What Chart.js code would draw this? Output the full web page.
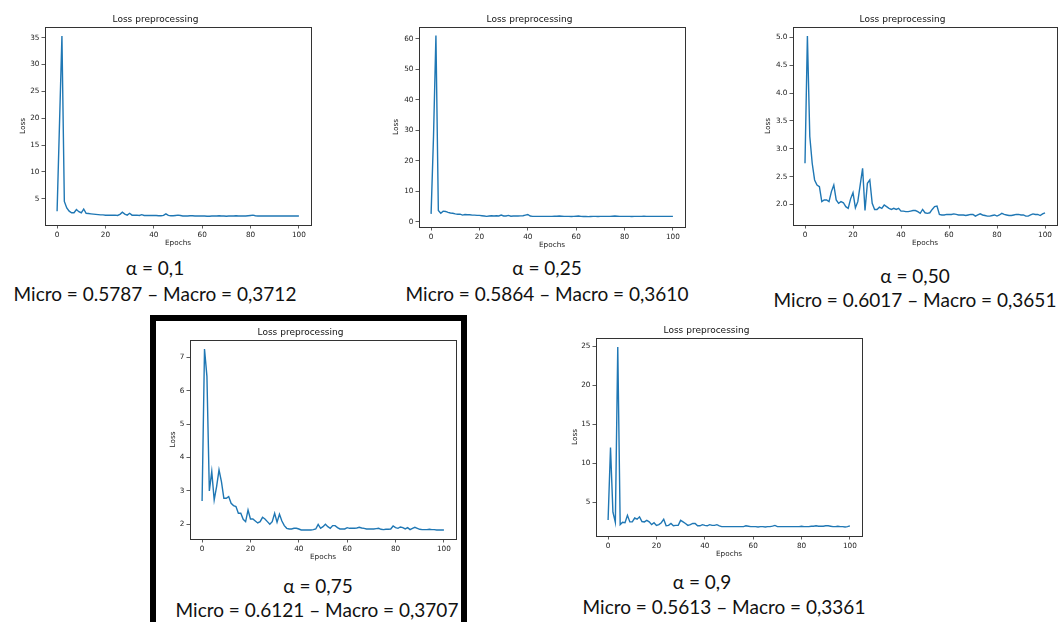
<!DOCTYPE html>
<html><head><meta charset="utf-8">
<script src="https://cdn.jsdelivr.net/npm/chart.js@4.4.0/dist/chart.umd.min.js"></script>
<style>
html,body{margin:0;padding:0;background:#fff;width:1061px;height:622px;overflow:hidden;position:relative;}
canvas{position:absolute;}
.cap{position:absolute;transform:translate(-50%,-50%);white-space:nowrap;color:#111;font-family:Lato,"Noto Sans",sans-serif;line-height:1;}
#frame{position:absolute;left:150px;top:315px;width:305px;height:330px;border:6px solid #000;border-bottom:none;}
</style></head><body>
<div id="frame"></div>
<script>
// ---------------- data ----------------
const EPOCHS = Array.from({length: 101}, (_, i) => i);
const X_TICKS = [0, 20, 40, 60, 80, 100];

const LOSS_A010 = [2.7, 19.0, 35.3, 4.5, 3.3, 2.7, 2.4, 2.4, 3.0, 2.6,
 2.4, 3.1, 2.3, 2.25, 2.2, 2.15, 2.1, 2.05, 2.0, 2.0,
 1.95, 1.95, 1.95, 1.95, 1.95, 1.9, 2.1, 2.5, 2.15, 1.95,
 2.3, 1.95, 1.95, 1.95, 1.9, 2.05, 1.9, 1.9, 1.9, 1.9,
 1.9, 1.9, 1.85, 1.85, 1.9, 2.2, 1.9, 1.85, 1.85, 1.9,
 1.95, 1.9, 1.8, 1.8, 1.8, 1.85, 1.85, 1.8, 1.8, 1.8,
 1.8, 1.8, 1.75, 1.75, 1.8, 1.8, 1.8, 1.85, 1.8, 1.8,
 1.75, 1.8, 1.8, 1.8, 1.85, 1.8, 1.8, 1.8, 1.8, 1.85,
 1.9, 1.95, 1.85, 1.8, 1.8, 1.8, 1.8, 1.8, 1.8, 1.8,
 1.8, 1.8, 1.8, 1.8, 1.8, 1.8, 1.8, 1.8, 1.8, 1.8,
 1.8];
const LOSS_A025 = [2.6, 28.0, 61.1, 3.7, 2.8, 3.5, 3.4, 3.1, 2.9, 2.8,
 2.6, 2.5, 2.5, 2.2, 2.4, 2.3, 2.3, 2.2, 2.2, 2.1,
 2.1, 2.0, 1.9, 1.8, 1.9, 2.0, 1.9, 2.0, 1.9, 2.2,
 1.9, 1.9, 2.1, 1.85, 1.9, 1.9, 1.9, 1.95, 2.0, 2.2,
 2.4, 1.9, 1.8, 1.8, 1.8, 1.8, 1.8, 1.8, 1.8, 1.8,
 1.8, 1.85, 1.85, 1.9, 1.85, 1.8, 1.8, 1.8, 1.75, 1.8,
 1.85, 1.9, 1.8, 1.75, 1.75, 1.7, 1.75, 1.8, 1.8, 1.75,
 1.8, 1.8, 1.8, 1.8, 1.8, 1.85, 1.9, 1.85, 1.8, 1.8,
 1.8, 1.8, 1.8, 1.75, 1.8, 1.8, 1.8, 1.8, 1.85, 1.8,
 1.8, 1.8, 1.8, 1.8, 1.8, 1.8, 1.8, 1.8, 1.8, 1.8,
 1.8];
const LOSS_A050 = [2.74, 5.03, 3.22, 2.74, 2.44, 2.35, 2.32, 2.05, 2.08, 2.08,
 2.05, 2.23, 2.35, 2.08, 2.02, 2.05, 2.03, 1.96, 1.93, 2.1,
 2.21, 1.94, 2.05, 2.35, 2.65, 1.89, 2.38, 2.44, 2.02, 1.91,
 1.91, 1.95, 1.93, 1.99, 1.96, 1.93, 1.91, 1.93, 1.91, 1.93,
 1.88, 1.88, 1.87, 1.87, 1.88, 1.89, 1.89, 1.87, 1.84, 1.91,
 1.85, 1.84, 1.85, 1.91, 1.96, 1.97, 1.82, 1.81, 1.81, 1.82,
 1.82, 1.82, 1.83, 1.82, 1.81, 1.81, 1.81, 1.80, 1.81, 1.82,
 1.82, 1.79, 1.81, 1.83, 1.81, 1.80, 1.79, 1.79, 1.80, 1.81,
 1.79, 1.81, 1.84, 1.82, 1.81, 1.80, 1.80, 1.81, 1.82, 1.82,
 1.81, 1.81, 1.79, 1.79, 1.81, 1.83, 1.82, 1.82, 1.80, 1.83,
 1.85];
const LOSS_A075 = [2.7, 7.25, 6.43, 3.0, 3.58, 2.73, 3.13, 3.63, 3.28, 2.78,
 2.78, 2.83, 2.63, 2.56, 2.53, 2.33, 2.33, 2.15, 2.08, 2.43,
 2.16, 2.16, 2.1, 2.04, 2.08, 2.21, 2.16, 2.08, 2.0, 2.08,
 2.33, 2.06, 2.3, 2.1, 1.96, 1.88, 1.86, 1.86, 1.88, 1.88,
 1.86, 1.83, 1.83, 1.83, 1.83, 1.83, 1.84, 1.86, 2.0, 1.88,
 1.93, 2.0, 1.93, 1.88, 1.96, 1.96, 1.9, 1.86, 1.86, 1.86,
 1.9, 1.88, 1.88, 1.88, 1.89, 1.91, 1.89, 1.88, 1.86, 1.86,
 1.86, 1.86, 1.87, 1.88, 1.85, 1.84, 1.85, 1.85, 1.86, 1.95,
 1.9, 1.88, 1.92, 1.9, 1.86, 1.9, 1.84, 1.88, 1.91, 1.88,
 1.85, 1.84, 1.84, 1.84, 1.85, 1.84, 1.84, 1.83, 1.83, 1.83,
 1.83];
const LOSS_A090 = [2.7, 12.0, 3.7, 2.4, 24.9, 2.1, 2.4, 2.35, 3.3, 2.45,
 2.45, 2.95, 2.8, 3.1, 2.5, 2.45, 2.65, 2.45, 2.1, 2.35,
 2.0, 2.1, 2.35, 2.8, 1.95, 2.0, 2.25, 1.95, 2.0, 2.0,
 2.65, 2.45, 2.25, 2.0, 2.1, 2.25, 2.25, 1.95, 1.95, 2.1,
 2.0, 1.95, 2.1, 2.0, 2.0, 2.1, 1.95, 1.85, 1.85, 1.85,
 1.85, 1.85, 1.85, 1.85, 1.85, 1.85, 1.85, 1.95, 1.9, 1.85,
 1.85, 1.85, 1.8, 1.85, 1.85, 1.8, 1.85, 1.85, 1.9, 2.0,
 1.85, 1.85, 1.85, 1.85, 1.85, 1.85, 1.85, 1.85, 1.85, 1.85,
 1.9, 1.85, 1.85, 1.85, 1.9, 1.9, 1.95, 1.9, 1.9, 1.9,
 1.95, 1.95, 1.9, 1.85, 1.85, 1.9, 1.85, 1.85, 1.8, 1.85,
 1.95];

const Y_TICKS_A010 = [5, 10, 15, 20, 25, 30, 35];
const Y_TICKS_A025 = [0, 10, 20, 30, 40, 50, 60];
const Y_TICKS_A050 = [2.0, 2.5, 3.0, 3.5, 4.0, 4.5, 5.0];
const Y_TICKS_A075 = [2, 3, 4, 5, 6, 7];
const Y_TICKS_A090 = [5, 10, 15, 20, 25];

const ALPHA_LABELS = ['α = 0,1', 'α = 0,25', 'α = 0,50', 'α = 0,75', 'α = 0,9'];
const SCORE_LABELS = ['Micro = 0.5787 – Macro = 0,3712', 'Micro = 0.5864 – Macro = 0,3610',
  'Micro = 0.6017 – Macro = 0,3651', 'Micro = 0.6121 – Macro = 0,3707', 'Micro = 0.5613 – Macro = 0,3361'];

const CHART_TITLE = 'Loss preprocessing';
const X_TITLE = 'Epochs';
const Y_TITLE = 'Loss';

// ---------------- layout ----------------
const PANELS = [
  {data: LOSS_A010, yt: Y_TICKS_A010, dec: 0, box: [45, 311, 27, 225], y: [0.12, 37.0], yTitleGap: 22, cap: [155, 267, 155, 293]},
  {data: LOSS_A025, yt: Y_TICKS_A025, dec: 0, box: [419, 685, 27, 226.5], y: [-1.7, 63.9], yTitleGap: 23, cap: [547, 267, 547, 293]},
  {data: LOSS_A050, yt: Y_TICKS_A050, dec: 1, box: [793, 1057, 27, 225], y: [1.63, 5.19], yTitleGap: 25, cap: [915, 275, 915, 299]},
  {data: LOSS_A075, yt: Y_TICKS_A075, dec: 0, box: [190, 456, 340, 539], y: [1.56, 7.52], yTitleGap: 17, cap: [318, 585, 317, 609]},
  {data: LOSS_A090, yt: Y_TICKS_A090, dec: 0, box: [596, 862, 338, 536], y: [0.64, 26.06], yTitleGap: 21, cap: [702, 581, 724, 606]},
];

Chart.defaults.font.family = '"DejaVu Sans", sans-serif';
Chart.defaults.color = '#222';

const frameBox = {
  id: 'frameBox',
  afterDraw(chart) {
    const a = chart.chartArea, ctx = chart.ctx;
    ctx.save();
    ctx.strokeStyle = '#333';
    ctx.lineWidth = 1;
    ctx.strokeRect(Math.round(a.left) + 0.5, Math.round(a.top) + 0.5, Math.round(a.right - a.left), Math.round(a.bottom - a.top));
    ctx.restore();
  }
};

const AX_W = 45, AX_H = 28, TITLE_H = 25, PAD_R = 4;
const TICK_FONT = 7.3, LABEL_FONT = 7.3, TITLE_FONT = 9;

PANELS.forEach((p, idx) => {
  const [L, R, T, B] = p.box;
  const cv = document.createElement('canvas');
  const w = Math.round(R - L + AX_W + PAD_R), h = Math.round(B - T + TITLE_H + AX_H);
  cv.width = w; cv.height = h;
  cv.style.left = (L - AX_W) + 'px';
  cv.style.top = (T - TITLE_H) + 'px';
  cv.style.width = w + 'px'; cv.style.height = h + 'px';
  document.body.appendChild(cv);

  const lh = LABEL_FONT * 1.2;
  new Chart(cv.getContext('2d'), {
    type: 'line',
    data: {
      datasets: [{
        data: EPOCHS.map((e, i) => ({x: e, y: p.data[i]})),
        borderColor: '#1f77b4', borderWidth: 1.4, pointRadius: 0, tension: 0, fill: false
      }]
    },
    options: {
      responsive: false, animation: false, devicePixelRatio: 1,
      layout: {padding: {left: 0, right: PAD_R, top: 0, bottom: 0}},
      plugins: {
        legend: {display: false}, tooltip: {enabled: false},
        title: {display: true, text: CHART_TITLE, color: '#111',
          font: {size: TITLE_FONT, weight: 'normal'}, padding: {top: TITLE_H - TITLE_FONT * 1.2 - 1.8, bottom: 1.8}}
      },
      scales: {
        x: {
          type: 'linear', min: -5, max: 105,
          afterBuildTicks: s => { s.ticks = X_TICKS.map(v => ({value: v})); },
          afterFit: s => { s.height = AX_H; },
          grid: {display: true, drawOnChartArea: false, drawTicks: true, tickLength: 3.5, color: '#333', tickWidth: 0.8},
          border: {display: false},
          ticks: {font: {size: TICK_FONT}, color: '#222', padding: 2, maxRotation: 0, autoSkip: false},
          title: {display: true, text: X_TITLE, color: '#222', font: {size: LABEL_FONT}, padding: {top: 0, bottom: AX_H - 18.5 - lh / 2}}
        },
        y: {
          type: 'linear', min: p.y[0], max: p.y[1],
          afterBuildTicks: s => { s.ticks = p.yt.map(v => ({value: v})); },
          afterFit: s => { s.width = AX_W; },
          grid: {display: true, drawOnChartArea: false, drawTicks: true, tickLength: 3.5, color: '#333', tickWidth: 0.8},
          border: {display: false},
          ticks: {font: {size: TICK_FONT}, color: '#222', padding: 2, autoSkip: false,
            callback: v => p.dec ? Number(v).toFixed(p.dec) : String(v)},
          title: {display: true, text: Y_TITLE, color: '#222', font: {size: LABEL_FONT}, padding: {top: AX_W - p.yTitleGap - lh / 2, bottom: 0}}
        }
      }
    },
    plugins: [frameBox]
  });

  // captions
  const [ax, ay, sx, sy] = p.cap;
  [[ALPHA_LABELS[idx], ax, ay], [SCORE_LABELS[idx], sx, sy]].forEach(([txt, xx, yy]) => {
    const d = document.createElement('div');
    d.className = 'cap';
    d.textContent = txt;
    d.style.left = xx + 'px';
    d.style.top = yy + 'px';
    d.style.fontSize = '19px';
    document.body.appendChild(d);
  });
});
</script>
</body></html>
